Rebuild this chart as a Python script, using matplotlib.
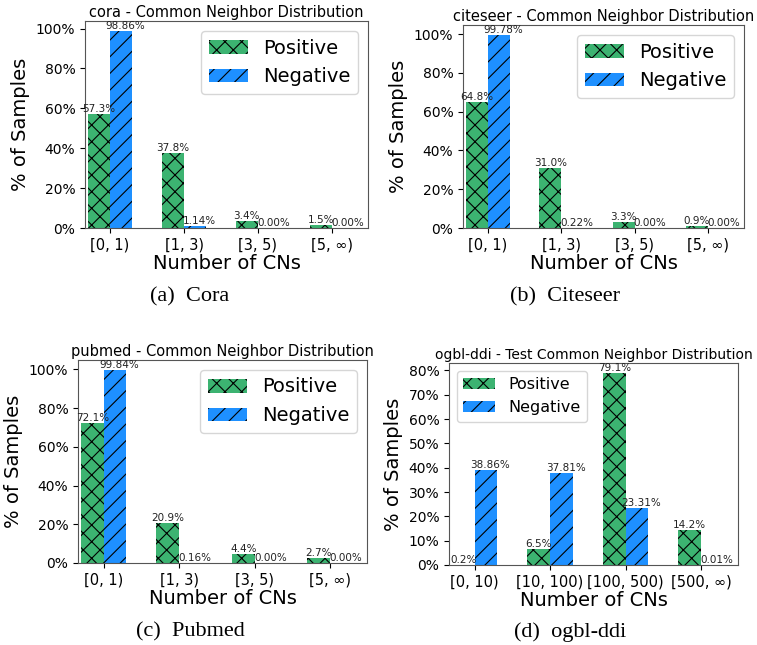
import matplotlib
matplotlib.use("Agg")
import matplotlib.pyplot as plt
import numpy as np
from matplotlib.ticker import PercentFormatter

GREEN = "#3CB371"
BLUE = "#1E90FF"

CN_BINS = ["[0, 1)", "[1, 3)", "[3, 5)", "[5, \u221e)"]
DDI_BINS = ["[0, 10)", "[10, 100)", "[100, 500)", "[500, \u221e)"]

CORA_POS = [57.3, 37.8, 3.4, 1.5]
CORA_NEG = [98.86, 1.14, 0.00, 0.00]
CITESEER_POS = [64.8, 31.0, 3.3, 0.9]
CITESEER_NEG = [99.78, 0.22, 0.00, 0.00]
PUBMED_POS = [72.1, 20.9, 4.4, 2.7]
PUBMED_NEG = [99.84, 0.16, 0.00, 0.00]
DDI_POS = [0.2, 6.5, 79.1, 14.2]
DDI_NEG = [38.86, 37.81, 23.31, 0.01]

W, H = 757, 645
plt.rcParams["hatch.linewidth"] = 0.8


def px_axes(fig, left, top, right, bottom):
    return fig.add_axes([left / W, 1 - bottom / H, (right - left) / W, (bottom - top) / H])


def panel(ax, title, bins, pos, neg, legend_loc, legend_size, title_size, yticks):
    x = np.arange(len(bins))
    w = 0.3
    ax.bar(x - w / 2, pos, w, color=GREEN, hatch="xx", label="Positive", linewidth=0)
    ax.bar(x + w / 2, neg, w, color=BLUE, hatch="//", label="Negative", linewidth=0)
    for xi, v in zip(x, pos):
        ax.text(xi - w / 2, v, f"{v:.1f}%", ha="center", va="bottom", fontsize=7.5, color="#222222")
    for xi, v in zip(x, neg):
        ax.text(xi + w / 2 + 0.06, v, f"{v:.2f}%", ha="center", va="bottom", fontsize=7.5, color="#222222")
    ax.set_xticks(x)
    ax.set_xticklabels(bins, fontsize=10.5)
    ax.set_yticks(yticks)
    ax.yaxis.set_major_formatter(PercentFormatter(decimals=0))
    ax.tick_params(axis="y", labelsize=10)
    ax.set_xlim(-0.34, 3.49)
    ax.set_ylim(0, max(max(pos), max(neg)) * 1.05)
    ax.set_xlabel("Number of CNs", fontsize=14, labelpad=1)
    ax.set_ylabel("% of Samples", fontsize=14)
    ax.set_title(title, fontsize=title_size, pad=3)
    ax.legend(loc=legend_loc, fontsize=legend_size)
    for s in ax.spines.values():
        s.set_color("#555555")


fig = plt.figure(figsize=(W / 100, H / 100), dpi=100)

ax_a = px_axes(fig, 85, 21, 368, 228)
panel(ax_a, "cora - Common Neighbor Distribution", CN_BINS, CORA_POS, CORA_NEG,
      "upper right", 14, 10.5, range(0, 101, 20))
ax_b = px_axes(fig, 463, 25, 744, 228)
panel(ax_b, "citeseer - Common Neighbor Distribution", CN_BINS, CITESEER_POS, CITESEER_NEG,
      "upper right", 14, 10.5, range(0, 101, 20))
ax_c = px_axes(fig, 78, 360, 367, 563)
panel(ax_c, "pubmed - Common Neighbor Distribution", CN_BINS, PUBMED_POS, PUBMED_NEG,
      "upper right", 14, 10.5, range(0, 101, 20))
ax_d = px_axes(fig, 449, 363, 738, 565)
panel(ax_d, "ogbl-ddi - Test Common Neighbor Distribution", DDI_BINS, DDI_POS, DDI_NEG,
      "upper left", 11.5, 10, range(0, 81, 10))

cap = dict(ha="center", va="center", fontsize=16, family="Liberation Serif")
fig.text(190 / W, 1 - 297 / H, "(a)  Cora", **cap)
fig.text(565 / W, 1 - 297 / H, "(b)  Citeseer", **cap)
fig.text(190 / W, 1 - 632 / H, "(c)  Pubmed", **cap)
fig.text(570 / W, 1 - 632 / H, "(d)  ogbl-ddi", **cap)

fig.savefig("out.png", dpi=100)
